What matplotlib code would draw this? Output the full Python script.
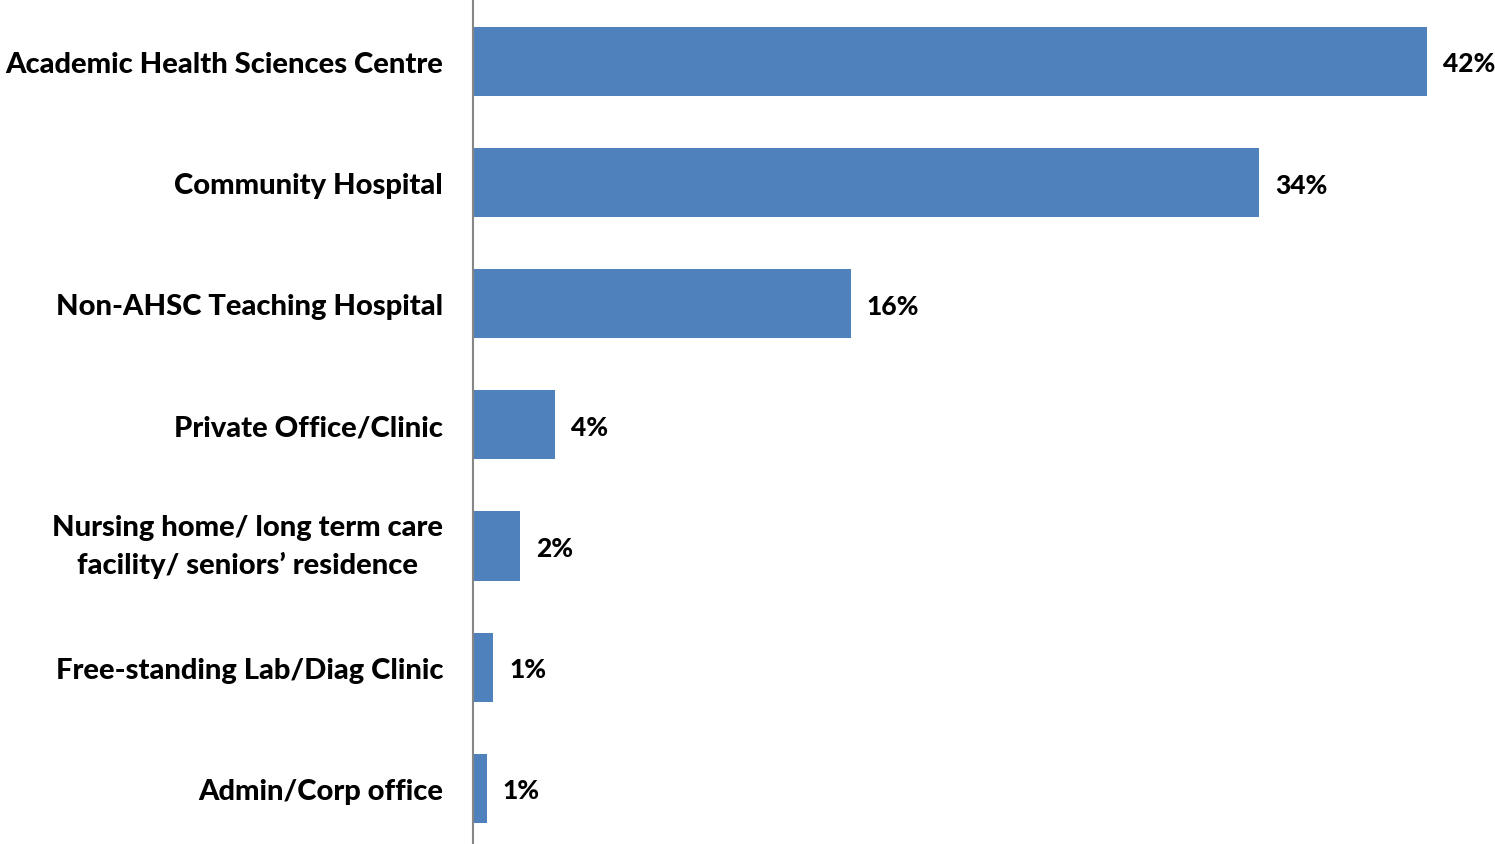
import matplotlib.pyplot as plt

categories = [
    "Academic Health Sciences Centre",
    "Community Hospital",
    "Non-AHSC Teaching Hospital",
    "Private Office/Clinic",
    "Nursing home/ long term care\nfacility/ seniors\u2019 residence",
    "Free-standing Lab/Diag Clinic",
    "Admin/Corp office",
]
values = [41.95, 34.55, 16.6, 3.6, 2.05, 0.9, 0.6]
labels = ["42%", "34%", "16%", "4%", "2%", "1%", "1%"]

plt.rcParams['font.family'] = ['Lato', 'DejaVu Sans']

fig = plt.figure(figsize=(14.95, 8.45), dpi=100)
ax = fig.add_axes([473 / 1495, 0, 1022 / 1495, 1])

y = list(range(len(categories)))
ax.barh(y, values, height=0.57, color='#4F81BD')

ax.set_xlim(0, 1022 / 22.75)
ax.set_ylim(len(categories) - 0.54, -0.515)

for yi, v, lab in zip(y, values, labels):
    ax.annotate(lab, (v, yi), xytext=(16, 0), textcoords='offset pixels',
                va='center_baseline', ha='left', fontsize=19, fontweight='black')

ax.set_yticks(y)
ax.set_yticklabels(categories, fontsize=21, fontweight='black',
                   multialignment='center', linespacing=1.5)
ax.tick_params(axis='y', length=0, pad=0)
ax.set_xticks([])

for side in ['top', 'right', 'bottom']:
    ax.spines[side].set_visible(False)
ax.spines['left'].set_color('#868686')
ax.spines['left'].set_linewidth(1.5)

for t in ax.get_yticklabels():
    t.set_ha('right')
    # two-line label sits centred on its bar
    t.set_va('center' if '\n' in t.get_text() else 'center_baseline')
    t.set_position((-30 / 22.75, t.get_position()[1]))
    t.set_transform(ax.transData)

fig.savefig('out.png', dpi=100)
